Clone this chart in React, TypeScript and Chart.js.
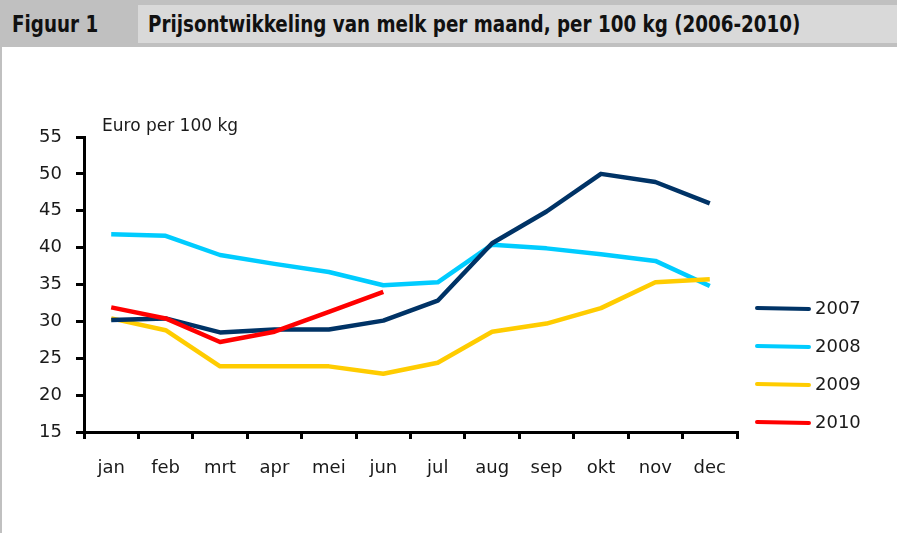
import React, { useEffect, useRef } from "react";
import { Chart, registerables } from "chart.js";

Chart.register(...registerables);

const months = ["jan", "feb", "mrt", "apr", "mei", "jun", "jul", "aug", "sep", "okt", "nov", "dec"];
const yTicks = [15, 20, 25, 30, 35, 40, 45, 50, 55];
const s2007 = [30.2, 30.4, 28.5, 28.9, 28.9, 30.1, 32.8, 40.6, 44.9, 50.0, 48.9, 46.0];
const s2008 = [41.8, 41.6, 39.0, 37.8, 36.7, 34.9, 35.3, 40.4, 39.9, 39.1, 38.2, 34.8];
const s2009 = [30.4, 28.8, 23.9, 23.9, 23.9, 22.9, 24.4, 28.6, 29.7, 31.8, 35.3, 35.7];
const s2010 = [31.9, 30.4, 27.2, 28.6, 31.3, 34.0];
const seriesLabels = ["2007", "2008", "2009", "2010"];
const seriesColors = ["#003366", "#00ccff", "#ffcc00", "#ff0000"];

const FONT = '"DejaVu Sans Condensed", "Liberation Sans", sans-serif';
const AXFONT = '"DejaVu Sans", sans-serif';

const overlayPlugin = {
  id: "overlay",
  afterDraw(chart: any) {
    const ctx = chart.ctx;
    const area = chart.chartArea;
    ctx.save();
    ctx.fillStyle = "#1a1a1a";
    ctx.font = `17px ${AXFONT}`;
    ctx.textBaseline = "alphabetic";
    ctx.textAlign = "left";
    ctx.fillText("Euro per 100 kg", 102, 131);
    const x0 = area.right + 20;
    const y0 = 308;
    chart.data.datasets.forEach((ds: any, i: number) => {
      const y = y0 + i * 38;
      ctx.strokeStyle = ds.borderColor;
      ctx.lineWidth = 4;
      ctx.lineCap = "round";
      ctx.beginPath();
      ctx.moveTo(x0, y);
      ctx.lineTo(x0 + 52, y + 1);
      ctx.stroke();
      ctx.fillStyle = "#1a1a1a";
      ctx.font = `18px ${AXFONT}`;
      ctx.textBaseline = "middle";
      ctx.fillText(ds.label, x0 + 58, y + 1);
    });
    ctx.restore();
  },
};

export default function App() {
  const ref = useRef<HTMLCanvasElement | null>(null);
  useEffect(() => {
    document.body.style.margin = "0";
    const series = [s2007, s2008, s2009, s2010];
    const orders = [1, 3, 2, 0];
    const chart = new Chart(ref.current as HTMLCanvasElement, {
      type: "line",
      data: {
        labels: months,
        datasets: series.map((d, i) => ({
          label: seriesLabels[i],
          data: d,
          borderColor: seriesColors[i],
          backgroundColor: seriesColors[i],
          borderWidth: 4.5,
          pointRadius: 0,
          tension: 0,
          fill: false,
          order: orders[i],
          borderJoinStyle: "round" as const,
        })),
      },
      options: {
        animation: false,
        responsive: false,
        maintainAspectRatio: false,
        layout: { padding: { left: 0, right: 160, top: 137, bottom: 0 } },
        plugins: { legend: { display: false }, tooltip: { enabled: false } },
        scales: {
          x: {
            type: "category",
            offset: true,
            grid: { display: true, drawOnChartArea: false, drawTicks: true, tickLength: 7, offset: true, color: "#000", lineWidth: 3 },
            border: { display: true, color: "#000", width: 3 },
            ticks: { color: "#1a1a1a", font: { family: AXFONT, size: 18 }, padding: 19, maxRotation: 0, autoSkip: false },
            afterFit: (s: any) => { s.height = 101; },
          },
          y: {
            min: 15,
            max: 55,
            afterBuildTicks: (s: any) => { s.ticks = yTicks.map((v) => ({ value: v })); },
            grid: { display: true, drawOnChartArea: false, drawTicks: true, tickLength: 8, color: "#000", lineWidth: 3 },
            border: { display: true, color: "#000", width: 3 },
            ticks: { color: "#1a1a1a", font: { family: AXFONT, size: 18 }, padding: 14 },
            afterFit: (s: any) => { s.width = 84; },
          },
        },
      },
      plugins: [overlayPlugin],
    });
    return () => chart.destroy();
  }, []);

  const headText: React.CSSProperties = {
    position: "absolute", top: 5, height: 38, lineHeight: "38px", fontFamily: FONT, fontWeight: "bold",
    fontSize: 23, color: "#111", whiteSpace: "nowrap", transform: "scaleX(0.885)", transformOrigin: "left center",
  };

  return (
    <div style={{ position: "relative", width: 897, height: 533, overflow: "hidden", background: "#fff" }}>
      <canvas ref={ref} width={897} height={533} style={{ position: "absolute", left: 0, top: 0 }} />
      <div style={{ position: "absolute", left: 0, top: 0, width: 897, height: 47, background: "#c0c0c0" }} />
      <div style={{ position: "absolute", left: 138, top: 5, width: 759, height: 38, background: "#d9d9d9" }} />
      <div style={{ ...headText, left: 12 }}>Figuur 1</div>
      <div style={{ ...headText, left: 148 }}>Prijsontwikkeling van melk per maand, per 100 kg (2006-2010)</div>
      <div style={{ position: "absolute", left: 0, top: 47, width: 2, height: 486, background: "#c0c0c0" }} />
    </div>
  );
}
